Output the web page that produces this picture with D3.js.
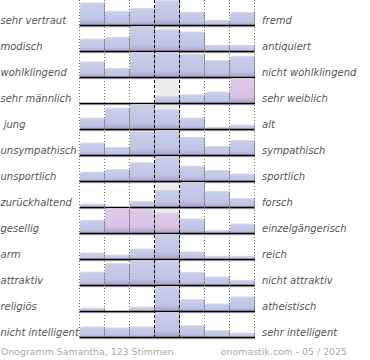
<!DOCTYPE html>
<html><head><meta charset="utf-8">
<script src="https://cdn.jsdelivr.net/npm/d3@7/dist/d3.min.js"></script>
<style>body{margin:0;background:#fff}svg{display:block}</style>
</head><body>
<script>
const leftLabels = ["sehr vertraut","modisch","wohlklingend","sehr männlich"," jung","unsympathisch","unsportlich","zurückhaltend","gesellig","arm","attraktiv","religiös","nicht intelligent"];
const rightLabels = ["fremd","antiquiert","nicht wohlklingend","sehr weiblich","alt","sympathisch","sportlich","forsch","einzelgängerisch","reich","nicht attraktiv","atheistisch","sehr intelligent"];
const values = [
  [91, 56, 68, 100, 52, 19, 52],
  [49, 56, 100, 87, 78, 23, 23],
  [62, 35, 100, 100, 93, 68, 85],
  [0, 0, 0, 27, 34, 45, 100],
  [45, 86, 100, 79, 45, 7, 16],
  [49, 31, 95, 100, 72, 35, 60],
  [36, 47, 75, 100, 61, 43, 29],
  [12, 0, 23, 68, 100, 64, 35],
  [52, 100, 96, 82, 58, 11, 37],
  [25, 16, 41, 100, 29, 11, 11],
  [53, 88, 100, 100, 52, 33, 19],
  [12, 0, 16, 100, 47, 29, 58],
  [41, 37, 41, 100, 47, 26, 16]
];
const pinkCols = [[],[],[],[6],[],[],[],[],[1,2,3],[],[],[],[]];
const columns = [0,1,2,3,4,5,6];
const footerLeft = "Onogramm Samantha, 123 Stimmen";
const footerRight = "onomastik.com - 05 / 2025";

const W = 370, H = 360;
const svg = d3.select("body").append("svg").attr("width", W).attr("height", H);
const defs = svg.append("defs");
function grad(id, top, mid, bot){
  const g = defs.append("linearGradient").attr("id", id).attr("x1",0).attr("y1",0).attr("x2",0).attr("y2",1);
  g.append("stop").attr("offset","0%").attr("stop-color",top);
  g.append("stop").attr("offset","70%").attr("stop-color",mid);
  g.append("stop").attr("offset","100%").attr("stop-color",bot);
}
grad("gBlue", "#c7cdea", "#c0c5e5", "#a89dcc");
grad("gPink", "#dfc9e8", "#d6c3e3", "#ab9ccc");

const x = d3.scaleBand().domain(columns).range([79.5, 254.5]).padding(0);
const row = d3.scaleBand().domain(d3.range(leftLabels.length)).range([-0.5, 337.5]).padding(0);
const barMax = 24.3;
const xEdge = c => (c < columns.length ? x(c) : x(columns.length - 1) + x.bandwidth());

const rows = svg.append("g").selectAll("g").data(values).join("g")
  .attr("transform", (d,i) => `translate(0,${row(i) + row.bandwidth()})`);

// center gray background
rows.append("rect")
  .attr("x", x(3) + 0.5).attr("width", x.bandwidth() - 0.5)
  .attr("y", -barMax).attr("height", barMax).attr("fill", "#ececec");

rows.each(function(d, i){
  const g = d3.select(this);
  const h = d3.scaleLinear().domain([0, d3.max(d)]).range([0, barMax]);
  const bars = g.selectAll("g.bar").data(d.map((v,c)=>({v,c}))).join("g").attr("class","bar");
  const nz = bars.filter(b => b.v > 0);
  nz.append("rect")
    .attr("x", b => x(b.c) + 1.5).attr("width", x.bandwidth() - 1)
    .attr("y", b => -h(b.v) - 1).attr("height", b => h(b.v))
    .attr("fill", "#d9d9dd");
  nz.append("rect")
    .attr("x", b => x(b.c) + 0.5).attr("width", x.bandwidth() - 0.5)
    .attr("y", b => -h(b.v)).attr("height", b => h(b.v))
    .attr("fill", b => pinkCols[i].includes(b.c) ? "url(#gPink)" : "url(#gBlue)");
  nz.append("line")
    .attr("x1", b => x(b.c) + x.bandwidth()).attr("x2", b => x(b.c) + x.bandwidth())
    .attr("y1", b => -h(b.v)).attr("y2", 0)
    .attr("stroke", "#999").attr("stroke-width", 1);
});

// grid lines
const grid = svg.append("g");
const dotted = [0,1,2,5,6,7];
const dashed = [3,4];
grid.selectAll("line.dot").data(dotted).join("line").attr("class","dot")
  .attr("x1", xEdge).attr("x2", xEdge)
  .attr("y1", 0).attr("y2", 339)
  .attr("stroke", "#777").attr("stroke-width", 1).attr("stroke-dasharray", "1,2");
grid.selectAll("line.dash").data(dashed).join("line").attr("class","dash")
  .attr("x1", xEdge).attr("x2", xEdge)
  .attr("y1", 0).attr("y2", 339)
  .attr("stroke", "#000").attr("stroke-width", 1).attr("stroke-dasharray", "3,2");

// baselines
rows.append("line").attr("x1", 79.5).attr("x2", 255).attr("y1", 1.2).attr("y2", 1.2)
  .attr("stroke", "#aaa").attr("stroke-width", 1);
rows.append("line").attr("x1", 79.5).attr("x2", 255).attr("y1", 0).attr("y2", 0)
  .attr("stroke", "#000").attr("stroke-width", 1.5);

// labels
const font = "DejaVu Sans, Verdana, sans-serif";
rows.append("text").text((d,i) => leftLabels[i])
  .attr("x", 0.5).attr("y", -2)
  .attr("font-family", font).attr("font-style","italic").attr("font-size", 10)
  .attr("fill", "#555").style("white-space","pre");
rows.append("text").text((d,i) => rightLabels[i])
  .attr("x", 262).attr("y", -2)
  .attr("font-family", font).attr("font-style","italic").attr("font-size", 10)
  .attr("fill", "#555");

svg.append("text").text(footerLeft).attr("x", 1).attr("y", 355)
  .attr("font-family", font).attr("font-size", 9.4).attr("fill", "#aaa");
svg.append("text").text(footerRight).attr("x", 347).attr("y", 355).attr("text-anchor","end")
  .attr("font-family", font).attr("font-size", 9.4).attr("fill", "#aaa");
</script>
</body></html>
